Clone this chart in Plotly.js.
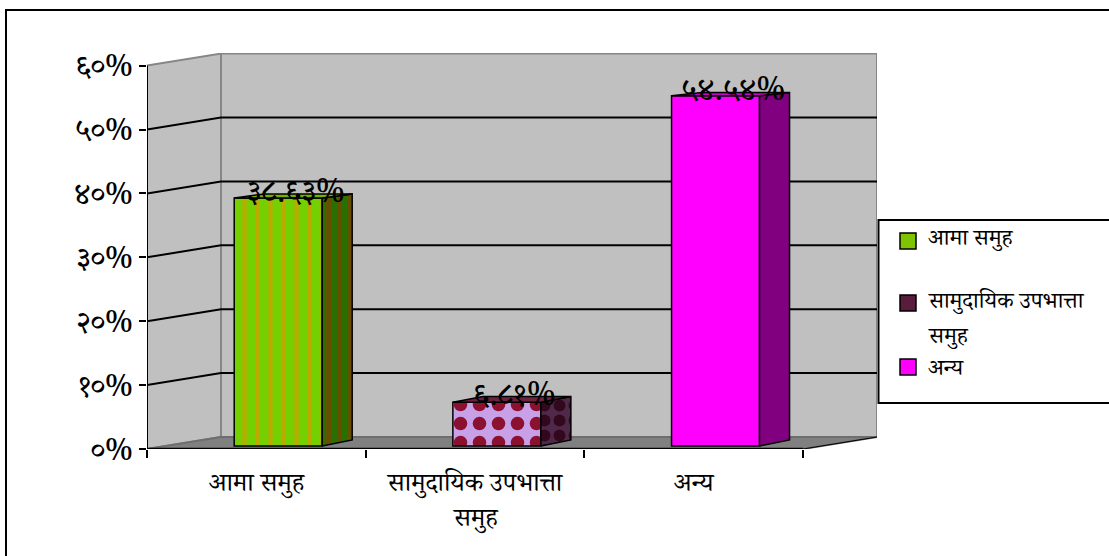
<!DOCTYPE html>
<html><head><meta charset="utf-8">
<script src="https://cdn.plot.ly/plotly-3.0.1.min.js"></script>
<style>html,body{margin:0;padding:0;background:#fff;overflow:hidden}#c{width:1109px;height:556px}</style>
</head><body><div id="c"></div>
<script>
// ---- data
var categories = ['आमा समुह', 'सामुदायिक उपभात्ता<br>समुह', 'अन्य'];
var legendNames = ['आमा समुह', 'सामुदायिक उपभात्ता<br>समुह', 'अन्य'];
var values = [38.63, 6.81, 54.54];
var valueLabels = ['३८.६३%', '६.८१%', '५४.५४%'];
var yTicks = [0, 10, 20, 30, 40, 50, 60];
var yTickLabels = ['०%', '१०%', '२०%', '३०%', '४०%', '५०%', '६०%'];

// ---- look
var FONT = '"Noto Serif Devanagari","Noto Sans Devanagari","Lohit Devanagari","Liberation Serif","Noto Sans",serif';
var W = 1109, H = 556, L = 147, R = 877, T = 53, B = 449;
var PX_X = 218.67, PX_Y = 6.39;
var xMin = -0.5, xMax = xMin + (R - L) / PX_X, yMax = (B - T) / PX_Y;
var wallDx = 74 / PX_X, wallDy = 12 / PX_Y;
var barShift = 0.1, barW = 88 / PX_X, barDepth = 30 / PX_X;
var baseFront = 3 / PX_Y, baseBack = 9 / PX_Y, scaleFront = 1.005, scaleBack = 0.997;
var styles = [
  {frontColor:'#74d000', sideColor:'#2a7000', top:'#74b000',
   front:{shape:'|',bgcolor:'#74d000',fgcolor:'#bcaa00',size:13,solidity:0.32},
   side:{shape:'|',bgcolor:'#2a7000',fgcolor:'#665000',size:11,solidity:0.45}},
  {frontColor:'#c8a0e8', sideColor:'#50284a', top:'#702040',
   front:{shape:'.',bgcolor:'#c8a0e8',fgcolor:'#8c1030',size:19,solidity:0.4},
   side:{shape:'.',bgcolor:'#50284a',fgcolor:'#32081c',size:15,solidity:0.5}},
  {frontColor:'#ff00ff', sideColor:'#800080', top:'#c800c8', front:null, side:null}
];
function px(p){ return (p - L) / (R - L); }
function py(p){ return (B - p) / (B - T); }
function poly(pts){ return 'M' + pts.map(function(q){return q[0] + ',' + q[1];}).join('L') + 'Z'; }
function firstLine(s){ return s.split('<br>')[0]; }
function secondLine(s){ return s.split('<br>')[1]; }

// ---- walls and floor (behind the bars)
var shapes = [];
function wall(pts, fill, col){ shapes.push({type:'path', layer:'below', xref:'x', yref:'y', path:poly(pts), fillcolor:fill, line:{color:col, width:2}}); }
var yT = 60, xb = xMin + wallDx;
wall([[xMin,0],[xb,wallDy],[xb,yT+wallDy],[xMin,yT]], '#c0c0c0', '#868686');
wall([[xb,wallDy],[xMax,wallDy],[xMax,yT+wallDy],[xb,yT+wallDy]], '#c0c0c0', '#868686');
wall([[xMin,0],[xb,wallDy],[xMax,wallDy],[xMax-wallDx,0]], '#808080', '#6e6e6e');
yTicks.slice(1, -1).forEach(function(v){
  shapes.push({type:'path', layer:'below', xref:'x', yref:'y', path:'M'+xMin+','+v+'L'+xb+','+(v+wallDy)+'L'+xMax+','+(v+wallDy), line:{color:'#000', width:2}});
});
// front axis lines
shapes.push({type:'line', layer:'below', xref:'x', yref:'y', x0:xMin, y0:0, x1:xMin, y1:yT, line:{color:'#000', width:2}});
shapes.push({type:'line', layer:'below', xref:'x', yref:'y', x0:xMin, y0:0, x1:xMax-wallDx, y1:0, line:{color:'#000', width:2.5}});
shapes.push({type:'line', layer:'below', xref:'x', yref:'y', x0:xMax-wallDx, y0:0, x1:xMax, y1:wallDy, line:{color:'#000', width:1}});
// frame and legend box
shapes.push({type:'path', xref:'paper', yref:'paper', layer:'below', path:'M'+px(6)+','+py(560)+'L'+px(6)+','+py(10)+'L'+px(1115)+','+py(10), line:{color:'#000', width:2}});
shapes.push({type:'rect', xref:'paper', yref:'paper', x0:px(878.5), x1:px(1115), y0:py(403), y1:py(220), fillcolor:'#fff', line:{color:'#000', width:2}});

// ---- bars
var positions = values.map(function(v,i){ return i + barShift; });
var traces = values.map(function(v,i){
  var s = styles[i];
  var m = {color:s.frontColor, line:{color:'#000', width:1.5}};
  if(s.front){ m.pattern = {shape:s.front.shape, fgcolor:s.front.fgcolor, bgcolor:s.front.bgcolor, size:s.front.size, solidity:s.front.solidity, fgopacity:1}; }
  return {type:'bar', x:[positions[i]], y:[v*scaleFront], base:baseFront, width:barW, marker:m, hoverinfo:'skip', showlegend:false};
});
function face(pts, color, pattern){
  var t = {type:'scatter', mode:'lines', x:pts.map(function(q){return q[0];}).concat(pts[0][0]), y:pts.map(function(q){return q[1];}).concat(pts[0][1]),
    fill:'toself', fillcolor:color, line:{color:'#000', width:1.5}, hoverinfo:'skip', showlegend:false};
  if(pattern){ t.fillpattern = pattern; }
  return t;
}
values.forEach(function(v,i){
  var s = styles[i], xr = positions[i] + barW/2, xl = positions[i] - barW/2;
  var ftop = baseFront + v*scaleFront, btop = baseBack + v*scaleBack;
  traces.push(face([[xr,baseFront],[xr+barDepth,baseBack],[xr+barDepth,btop],[xr,ftop]], s.sideColor, s.side));
  traces.push(face([[xl,ftop],[xl+barDepth,btop],[xr+barDepth,btop],[xr,ftop]], s.top, null));
});
// value labels
traces.push({type:'scatter', mode:'text', x:positions.map(function(p){return p + 0.08;}), y:values.map(function(v){return v + 1.3;}),
  text:valueLabels, textposition:'middle center', textfont:{family:FONT, size:32, color:'#000'}, hoverinfo:'skip', showlegend:false, cliponaxis:false});

// ---- legend and wrapped text
var legendY = [241, 303, 367];
var legendTextY = [241, 303, 370];
var legendLine2Y = [null, 338, null];
var legendSw = ['#80c400', '#5a1c3c', '#ff00ff'];
var annotations = [];
legendNames.forEach(function(n,i){
  annotations.push({xref:'paper', yref:'paper', x:px(926), y:py(legendTextY[i]), xanchor:'left', yanchor:'middle', yshift:-1, text:firstLine(n), showarrow:false, font:{family:FONT, size:23, color:'#000'}});
  if(secondLine(n)){
    annotations.push({xref:'paper', yref:'paper', x:px(926), y:py(legendLine2Y[i]), xanchor:'left', yanchor:'middle', yshift:-1, text:secondLine(n), showarrow:false, font:{family:FONT, size:23, color:'#000'}});
  }
});
categories.forEach(function(c,i){
  if(secondLine(c)){
    annotations.push({xref:'x', yref:'paper', x:i, y:py(522), xanchor:'center', yanchor:'middle', text:secondLine(c), showarrow:false, font:{family:FONT, size:26, color:'#000'}});
  }
});
legendY.forEach(function(y,i){
  shapes.push({type:'rect', xref:'paper', yref:'paper', x0:px(900), x1:px(916), y0:py(y+8), y1:py(y-8), fillcolor:legendSw[i], line:{color:'#000', width:1.5}});
});

Plotly.newPlot('c', traces, {
  width:W, height:H, showlegend:false, barmode:'overlay', paper_bgcolor:'#fff', plot_bgcolor:'rgba(0,0,0,0)',
  margin:{l:L, r:W-R, t:T, b:H-B, pad:0},
  xaxis:{range:[xMin,xMax], showgrid:false, zeroline:false, showline:false, tickmode:'array', tickvals:[0,1,2], ticktext:categories.map(firstLine), ticks:'', tickangle:0,
    tickfont:{family:FONT, size:26, color:'#000'}, ticklabelstandoff:15,
    minor:{tickmode:'array', tickvals:[-0.5,0.5,1.5,2.5], ticks:'outside', ticklen:8, tickwidth:2, tickcolor:'#000', showgrid:false}},
  yaxis:{range:[0,yMax], showgrid:false, zeroline:false, showline:false, tickmode:'array', tickvals:yTicks, ticktext:yTickLabels, ticks:'outside', ticklen:7, tickwidth:2, tickcolor:'#000',
    tickfont:{family:FONT, size:31, color:'#000'}},
  shapes:shapes, annotations:annotations
}, {displayModeBar:false, staticPlot:true});
</script></body></html>
